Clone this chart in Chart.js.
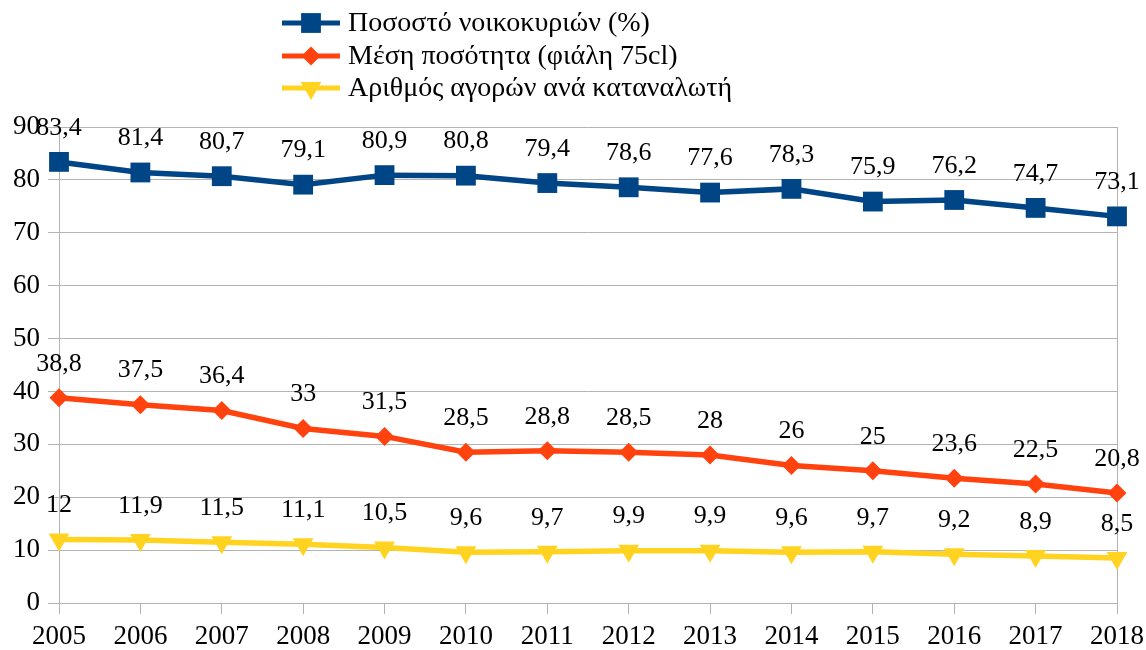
<!DOCTYPE html>
<html>
<head>
<meta charset="utf-8">
<script src="https://cdn.jsdelivr.net/npm/chart.js@4"></script>
<style>
  body { margin: 0; background: #fff; }
  #wrap { width: 1146px; height: 650px; }
</style>
</head>
<body>
<div id="wrap"><canvas id="lineChart" width="1146" height="650"></canvas></div>
<script>
const years = ['2005','2006','2007','2008','2009','2010','2011','2012','2013','2014','2015','2016','2017','2018'];
const households = [83.4, 81.4, 80.7, 79.1, 80.9, 80.8, 79.4, 78.6, 77.6, 78.3, 75.9, 76.2, 74.7, 73.1];
const avgQuantity = [38.8, 37.5, 36.4, 33, 31.5, 28.5, 28.8, 28.5, 28, 26, 25, 23.6, 22.5, 20.8];
const purchases = [12, 11.9, 11.5, 11.1, 10.5, 9.6, 9.7, 9.9, 9.9, 9.6, 9.7, 9.2, 8.9, 8.5];
const seriesNames = ['Ποσοστό νοικοκυριών (%)', 'Μέση ποσότητα (φιάλη 75cl)', 'Αριθμός αγορών ανά καταναλωτή'];

const FONT = '"Liberation Serif", serif';
const grey = '#b3b3b3';

// value labels above each point
const valueLabels = {
  id: 'valueLabels',
  afterDatasetsDraw(chart) {
    let ctx = chart.ctx;
    ctx.save();
    ctx.font = '26px ' + FONT;
    ctx.fillStyle = '#000';
    ctx.textAlign = 'center';
    ctx.textBaseline = 'middle';
    chart.data.datasets.forEach((ds, i) => {
      chart.getDatasetMeta(i).data.forEach((pt, j) => {
        ctx.fillText(String(ds.data[j]).replace('.', ','), pt.x, pt.y - 34);
      });
    });
    ctx.restore();
  }
};

// legend with line + marker, stacked at top
const topLegend = {
  id: 'topLegend',
  afterDraw(chart) {
    let ctx = chart.ctx;
    let rows = [23, 56, 88];
    ctx.save();
    chart.data.datasets.forEach((ds, i) => {
      let y = rows[i];
      ctx.strokeStyle = ds.borderColor;
      ctx.lineWidth = 5;
      ctx.beginPath();
      ctx.moveTo(282, y);
      ctx.lineTo(340, y);
      ctx.stroke();
      ctx.fillStyle = ds.pointBackgroundColor;
      ctx.strokeStyle = ds.pointBorderColor;
      Chart.helpers.drawPoint(ctx, {
        pointStyle: ds.pointStyle,
        radius: ds.pointRadius,
        rotation: ds.pointRotation || 0,
        borderWidth: 0
      }, 311, y);
      ctx.fillStyle = '#000';
      ctx.font = '28px ' + FONT;
      ctx.textAlign = 'left';
      ctx.textBaseline = 'middle';
      ctx.fillText(ds.label, 348, y + 1);
    });
    ctx.restore();
  }
};

function lineSet(label, data, color, style, radius, rotation) {
  return {
    label: label,
    data: data,
    borderColor: color,
    backgroundColor: color,
    borderWidth: 5.5,
    pointStyle: style,
    pointRadius: radius,
    pointHoverRadius: radius,
    pointRotation: rotation,
    pointBackgroundColor: color,
    pointBorderColor: color,
    pointBorderWidth: 0,
    tension: 0
  };
}

const lastIdx = years.length - 1;

function drawChart() {
  new Chart(document.getElementById('lineChart'), {
    type: 'line',
    data: {
      labels: years,
      datasets: [
        lineSet(seriesNames[0], households, '#004586', 'rect', 14, 0),
        lineSet(seriesNames[1], avgQuantity, '#ff420e', 'rectRot', 9.5, 0),
        lineSet(seriesNames[2], purchases, '#ffd320', 'triangle', 12, 180)
      ]
    },
    options: {
      responsive: false,
      animation: false,
      layout: { padding: { top: 127, right: 29, left: 0, bottom: 0 } },
      plugins: {
        legend: { display: false },
        tooltip: { enabled: false }
      },
      scales: {
        x: {
          offset: false,
          border: { display: true, color: grey, width: 1 },
          grid: {
            drawOnChartArea: true,
            color: c => c.index === lastIdx ? grey : 'rgba(0,0,0,0)',
            tickColor: grey,
            tickLength: 11
          },
          ticks: {
            color: '#000',
            font: { family: FONT, size: 27 },
            padding: 7,
            maxRotation: 0,
            autoSkip: false
          },
          afterFit: s => { s.height = 47; s.paddingLeft = 0; s.paddingRight = 0; }
        },
        y: {
          min: 0,
          max: 90,
          border: { display: true, color: grey, width: 1 },
          grid: { color: grey, tickColor: grey, tickLength: 11 },
          ticks: {
            stepSize: 10,
            color: '#000',
            font: { family: FONT, size: 27 },
            padding: 8
          },
          afterFit: s => { s.width = 59; }
        }
      }
    },
    plugins: [valueLabels, topLegend]
  });
}

drawChart();
</script>
</body>
</html>
